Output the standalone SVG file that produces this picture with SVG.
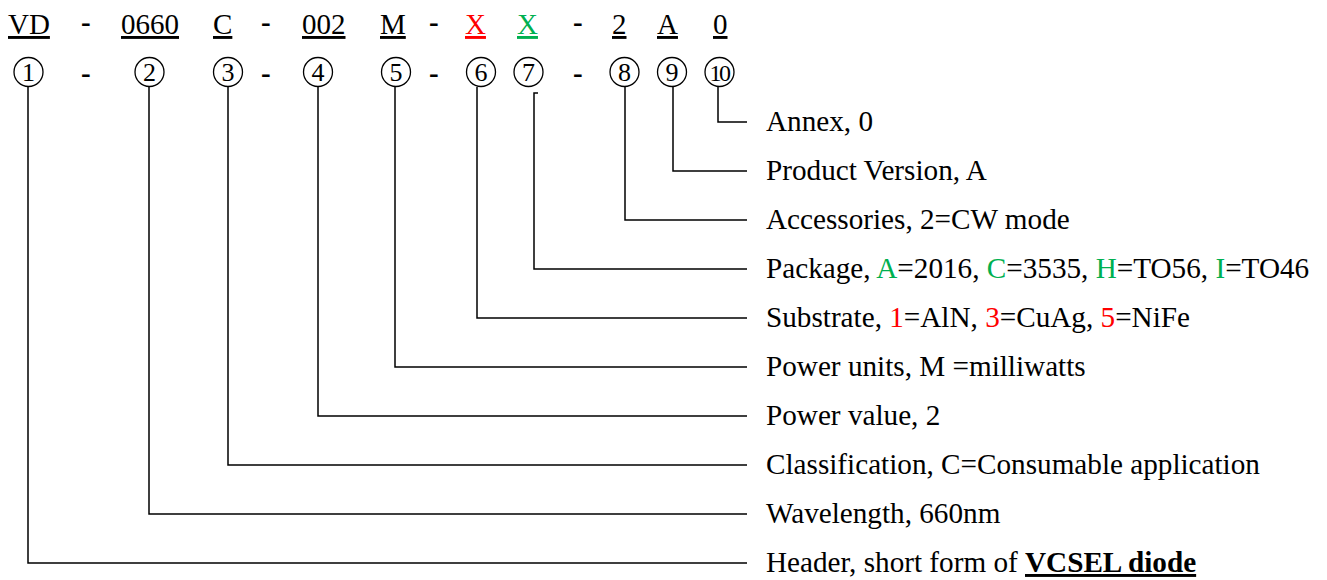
<svg xmlns="http://www.w3.org/2000/svg" width="1327" height="580" viewBox="0 0 1327 580">
<style>
text{font-family:"Liberation Serif","Times New Roman",serif;fill:#000}
.code{font-size:29px;text-decoration:underline}
.dash{font-size:29px;font-weight:bold}
.lbl{font-size:29.2px}
.num{font-size:26px;text-anchor:middle}
.ring{fill:none;stroke:#000;stroke-width:1.3}
.red{fill:#FF0000}
.grn{fill:#00B050}
#connectors path{fill:none;stroke:#000;stroke-width:1.5}
</style>
<rect width="1327" height="580" fill="#fff"/>
<g id="code-row">
<text class="code" x="8" y="34">VD</text>
<text class="dash" x="81" y="32">-</text>
<text class="code" x="121" y="34">0660</text>
<text class="code" x="213" y="34">C</text>
<text class="dash" x="261" y="32">-</text>
<text class="code" x="302" y="34">002</text>
<text class="code" x="380" y="34">M</text>
<text class="dash" x="429" y="32">-</text>
<text class="code red" x="465" y="34">X</text>
<text class="code grn" x="517" y="34">X</text>
<text class="dash" x="573" y="32">-</text>
<text class="code" x="612" y="34">2</text>
<text class="code" x="657" y="34">A</text>
<text class="code" x="713" y="34">0</text>
</g>
<g id="marker-row-dashes">
<text class="dash" x="81" y="83">-</text>
<text class="dash" x="261" y="83">-</text>
<text class="dash" x="429" y="83">-</text>
<text class="dash" x="573" y="83">-</text>
</g>
<g id="m1"><circle class="ring" cx="28.5" cy="72" r="14.5"/><text class="num" x="28.5" y="81">1</text></g>
<g id="m2"><circle class="ring" cx="149.5" cy="72" r="14.5"/><text class="num" x="149.5" y="81">2</text></g>
<g id="m3"><circle class="ring" cx="228" cy="72" r="14.5"/><text class="num" x="228" y="81">3</text></g>
<g id="m4"><circle class="ring" cx="318" cy="72" r="14.5"/><text class="num" x="318" y="81">4</text></g>
<g id="m5"><circle class="ring" cx="396" cy="72" r="14.5"/><text class="num" x="396" y="81">5</text></g>
<g id="m6"><circle class="ring" cx="481" cy="72" r="14.5"/><text class="num" x="481" y="81">6</text></g>
<g id="m7"><circle class="ring" cx="528.5" cy="72" r="14.5"/><text class="num" x="528.5" y="81">7</text></g>
<g id="m8"><circle class="ring" cx="624.5" cy="72" r="14.5"/><text class="num" x="624.5" y="81">8</text></g>
<g id="m9"><circle class="ring" cx="672" cy="72" r="14.5"/><text class="num" x="672" y="81">9</text></g>
<g id="m10"><circle class="ring" cx="719.5" cy="72" r="14.5"/><text class="num" x="719" y="80.5" style="font-size:24px;letter-spacing:-2.5px">10</text></g>
<g id="connectors">
<path d="M718 87V122H747"/>
<path d="M673 87V171H747"/>
<path d="M625 87V220H747"/>
<path d="M538 93H534V269H747"/>
<path d="M477 87V318H747"/>
<path d="M395 87V367H747"/>
<path d="M318 87V416H747"/>
<path d="M228 87V465H747"/>
<path d="M149 87V514H747"/>
<path d="M28 87V563H747"/>
</g>
<g id="label-annex"><text class="lbl" x="766" y="131">Annex, 0</text></g>
<g id="label-version"><text class="lbl" x="766" y="180">Product Version, A</text></g>
<g id="label-accessories"><text class="lbl" x="766" y="229">Accessories, 2=CW mode</text></g>
<g id="label-package"><text class="lbl" x="766" y="278">Package, <tspan class="grn">A</tspan>=2016, <tspan class="grn">C</tspan>=3535, <tspan class="grn">H</tspan>=TO56, <tspan class="grn">I</tspan>=TO46</text></g>
<g id="label-substrate"><text class="lbl" x="766" y="327">Substrate, <tspan class="red">1</tspan>=AlN, <tspan class="red">3</tspan>=CuAg, <tspan class="red">5</tspan>=NiFe</text></g>
<g id="label-units"><text class="lbl" x="766" y="376">Power units, M =milliwatts</text></g>
<g id="label-value"><text class="lbl" x="766" y="425">Power value, 2</text></g>
<g id="label-class"><text class="lbl" x="766" y="474">Classification, C=Consumable application</text></g>
<g id="label-wavelength"><text class="lbl" x="766" y="523">Wavelength, 660nm</text></g>
<g id="label-header"><text class="lbl" x="766" y="572">Header, short form of <tspan font-weight="bold" text-decoration="underline">VCSEL diode</tspan></text></g>
</svg>
